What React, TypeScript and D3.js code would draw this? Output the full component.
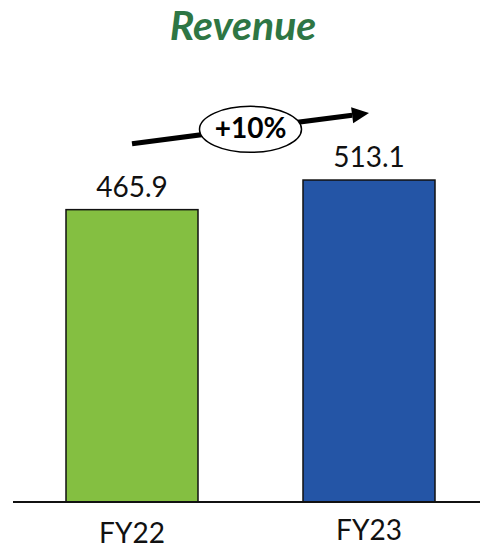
import React from 'react';
import * as d3 from 'd3';

const categories = ['FY22', 'FY23'];
const revenue = [465.9, 513.1];
const barColors = ['#84bf41', '#2455a6'];
const growthLabel = '+10%';
const title = 'Revenue';

const width = 480;
const height = 548;
const baseY = 502;
const barWidth = 132;
const font = 'Lato, "Open Sans", sans-serif';

const App: React.FC = () => {
    const x = d3.scalePoint<string>().domain(categories).range([132, 369]);
    const y = d3.scaleLinear().domain([0, 800]).range([baseY, 0]);

    // growth arrow from the top of bar 1 toward bar 2
    const x1 = x(categories[0]) as number;
    const x2 = x(categories[1]) as number;
    const y1 = y(revenue[0]) - 66;
    const y2 = y(revenue[1]) - 67;
    const angle = Math.atan2(y2 - y1, x2 - x1);
    const headLen = 17;
    const headHalf = 8;
    const bx = x2 - headLen * Math.cos(angle);
    const by = y2 - headLen * Math.sin(angle);
    const px = -Math.sin(angle) * headHalf;
    const py = Math.cos(angle) * headHalf;
    const mx = (x1 + x2) / 2;
    const my = (y1 + y2) / 2;

    return (
        <svg width={width} height={height} style={{ position: 'absolute', left: 0, top: 0 }}>
            <rect width={width} height={height} fill="white" />
            <text x={243} y={40} textAnchor="middle" fontFamily={font} fontWeight="bold"
                fontStyle="italic" fontSize={41} fill="#2e7644">{title}</text>

            {categories.map((c, i) => (
                <g key={c}>
                    <rect x={(x(c) as number) - barWidth / 2} y={y(revenue[i])} width={barWidth}
                        height={baseY - y(revenue[i])} fill={barColors[i]} stroke="#111" strokeWidth={1.5} />
                    <text x={x(c)} y={y(revenue[i]) - 13} textAnchor="middle" fontFamily={font}
                        fontSize={28} fill="#111">{revenue[i].toFixed(1)}</text>
                    <text x={x(c)} y={i === 0 ? 543 : 540} textAnchor="middle" fontFamily={font}
                        fontSize={28} fill="#111">{c}</text>
                </g>
            ))}

            <line x1={13} x2={480} y1={baseY} y2={baseY} stroke="#111" strokeWidth={2} />

            <line x1={x1} y1={y1} x2={bx} y2={by} stroke="#000" strokeWidth={5} />
            <polygon points={`${x2},${y2} ${bx + px},${by + py} ${bx - px},${by - py}`} fill="#000" />
            <ellipse cx={mx} cy={my + 1} rx={51} ry={23} fill="white" stroke="#000" strokeWidth={1.5} />
            <text x={mx} y={my + 10} textAnchor="middle" fontFamily={font} fontWeight="bold"
                fontSize={28} fill="#000">{growthLabel}</text>
        </svg>
    );
};

export default App;
